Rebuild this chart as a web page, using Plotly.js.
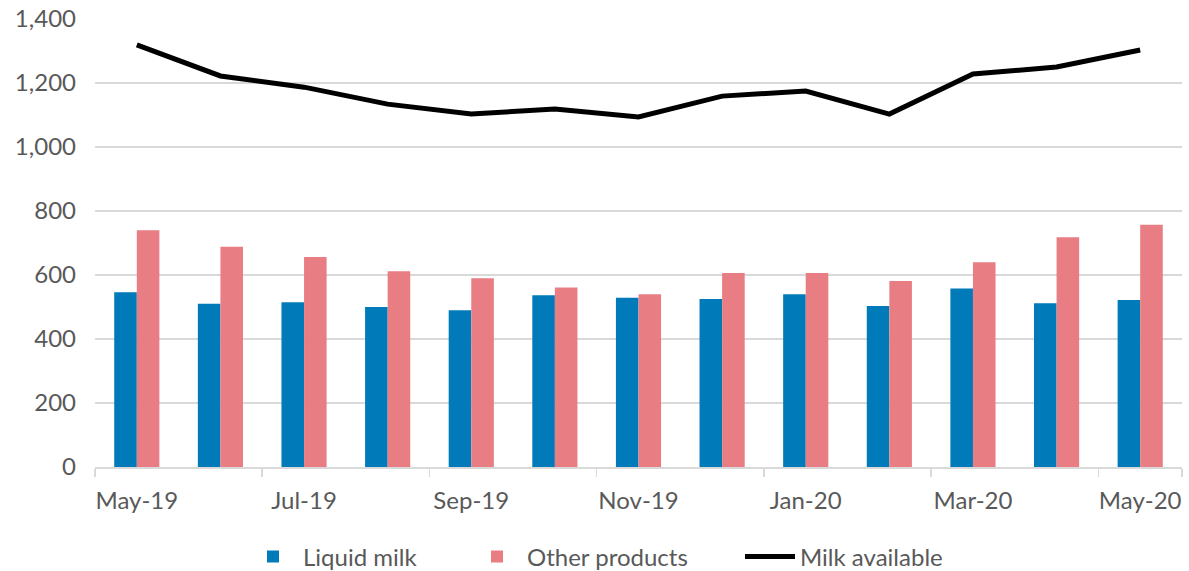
<!DOCTYPE html>
<html>
<head>
<meta charset="utf-8">
<script src="https://cdn.plot.ly/plotly-3.0.1.min.js"></script>
<style>html,body{margin:0;padding:0;background:#fff;}#chart{width:1189px;height:571px;}</style>
</head>
<body>
<div id="chart"></div>
<script>
const months = ["May-19","Jun-19","Jul-19","Aug-19","Sep-19","Oct-19","Nov-19","Dec-19","Jan-20","Feb-20","Mar-20","Apr-20","May-20"];
const liquidMilk = [546,510,515,500,490,537,529,525,540,503,558,512,522];
const otherProducts = [740,688,656,612,590,561,540,606,606,581,640,718,757];
const milkAvailable = [1319,1222,1187,1134,1103,1119,1094,1159,1175,1103,1228,1250,1303];
const labeledMonths = ["May-19","Jul-19","Sep-19","Nov-19","Jan-20","Mar-20","May-20"];
const yTicks = [0,200,400,600,800,1000,1200,1400];

const font = {family:"Lato, 'Open Sans', sans-serif", size:24, color:"#595959"};

const traces = [
  {type:"bar", name:"Liquid milk", x:months, y:liquidMilk, marker:{color:"#007AB9"}, legend:"legend"},
  {type:"bar", name:"Other products", x:months, y:otherProducts, marker:{color:"#E87E83"}, legend:"legend2"},
  {type:"scatter", mode:"lines", name:"Milk available", x:months, y:milkAvailable, line:{color:"#000000", width:5}, legend:"legend3"}
];

function leg(px){
  return {orientation:"h", xref:"container", yref:"container", x:px/1189, xanchor:"left",
    y:0.0245, yanchor:"middle", font:font, itemwidth:50, bgcolor:"rgba(0,0,0,0)"};
}

const layout = {
  width:1189, height:571,
  margin:{l:95, r:7, t:19, b:104},
  paper_bgcolor:"#fff", plot_bgcolor:"#fff",
  font:font,
  barmode:"group", bargap:0.46, bargroupgap:0,
  showlegend:true,
  legend:leg(243),
  legend2:leg(467),
  legend3:leg(740),
  xaxis:{type:"category", tickmode:"array", tickvals:labeledMonths, ticktext:labeledMonths,
    tickson:"boundaries", ticks:"outside", ticklen:8, tickcolor:"#D9D9D9", tickwidth:1.5,
    showline:true, linecolor:"#D9D9D9", linewidth:1.5, showgrid:false, ticklabelstandoff:12,
    tickangle:0, automargin:false, tickfont:font, range:[-0.5,12.5]},
  yaxis:{range:[0,1400], tickmode:"array", tickvals:yTicks, ticktext:yTicks.map(v=>v.toLocaleString("en-US")),
    showgrid:true, gridcolor:"#D9D9D9", gridwidth:1.5, zeroline:false, showline:false, ticks:"",
    ticklabelstandoff:18, automargin:false, tickfont:font}
};

Plotly.newPlot("chart", traces, layout, {displayModeBar:false, staticPlot:true});
</script>
</body>
</html>
